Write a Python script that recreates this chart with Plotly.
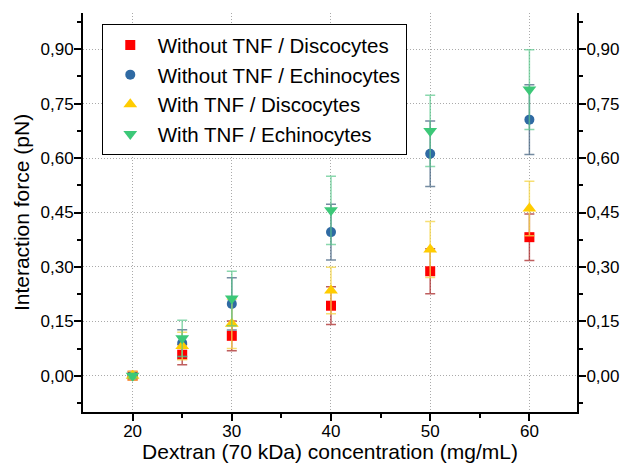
import plotly.graph_objects as go

x = [20, 25, 30, 40, 50, 60]
names = ["Without TNF / Discocytes", "Without TNF / Echinocytes",
         "With TNF / Discocytes", "With TNF / Echinocytes"]
red = [0.0, 0.058, 0.110, 0.193, 0.288, 0.382]
red_err = [0.004, 0.028, 0.041, 0.052, 0.062, 0.064]
blue = [0.0, 0.090, 0.198, 0.396, 0.612, 0.706]
blue_err = [0.004, 0.037, 0.072, 0.077, 0.090, 0.096]
yellow = [0.0, 0.082, 0.143, 0.235, 0.348, 0.461]
yellow_err = [0.012, 0.038, 0.068, 0.064, 0.077, 0.075]
green = [0.0, 0.103, 0.213, 0.456, 0.675, 0.789]
green_err = [0.006, 0.050, 0.075, 0.094, 0.098, 0.110]

ytick_vals = [0.0, 0.15, 0.30, 0.45, 0.60, 0.75, 0.90]
ytick_minor = [-0.075, 0.075, 0.225, 0.375, 0.525, 0.675, 0.825, 0.975]
xtick_vals = [20, 30, 40, 50, 60]
xtick_minor = [25, 35, 45, 55]
y_range = [-0.1, 1.0]
x_range = [15, 64.8]

series = [
    (names[0], red, red_err, "square", "#FF0000", "rgba(170,40,40,0.75)", 10),
    (names[1], blue, blue_err, "circle", "#2F6AA3", "rgba(70,100,130,0.75)", 10),
    (names[2], yellow, yellow_err, "triangle-up", "#FFCC00", "rgba(245,215,80,0.8)", 12),
    (names[3], green, green_err, "triangle-down", "#3CC878", "rgba(90,200,140,0.7)", 12),
]

fig = go.Figure()
for name, vals, errs, sym, col, ecol, sz in series:
    fig.add_trace(go.Scatter(
        x=x, y=vals, name=name, mode="markers",
        marker=dict(symbol=sym, color=col, size=sz, line=dict(width=0)),
        error_y=dict(type="data", array=errs, visible=True, color=ecol,
                     thickness=1.5, width=5),
    ))

# invisible trace so the right-hand axis is drawn with labels
fig.add_trace(go.Scatter(x=x, y=red, yaxis="y2", mode="markers",
                         marker=dict(opacity=0), showlegend=False, hoverinfo="skip"))

fam = "Liberation Sans, Arial, sans-serif"
axis_font = dict(family=fam, size=17, color="black")
title_font = dict(family=fam, size=21, color="black")
grid = dict(showgrid=True, gridcolor="#AAAAAA", griddash="1px,2px", gridwidth=1)
tick_common = dict(ticks="outside", ticklen=7, tickwidth=1.5, tickcolor="black",
                   showline=True, linecolor="black", linewidth=2, zeroline=False,
                   tickfont=axis_font, automargin=False)

fig.update_layout(
    width=621, height=463,
    margin=dict(l=83, r=44, t=13, b=51),
    paper_bgcolor="white", plot_bgcolor="white",
    separators=",.",
    showlegend=True,
    legend=dict(x=0.038, y=0.972, xanchor="left", yanchor="top",
                bordercolor="black", borderwidth=1, bgcolor="white",
                font=dict(family=fam, size=20.5, color="black"),
                itemwidth=45, tracegroupgap=0),
    xaxis=dict(range=x_range, tickvals=xtick_vals, ticklabelstandoff=-4, **tick_common, **grid,
               title=dict(text="Dextran (70 kDa) concentration (mg/mL)", font=title_font, standoff=7),
               minor=dict(ticks="outside", ticklen=4, tickwidth=1.5, tickcolor="black",
                          tickvals=xtick_minor, showgrid=False)),
    yaxis=dict(range=y_range, tickvals=ytick_vals, tickformat=".2f", ticklabelstandoff=-3,
               **tick_common, **grid,
               title=dict(text="Interaction force (pN)", font=title_font, standoff=5),
               minor=dict(ticks="outside", ticklen=4, tickwidth=1.5, tickcolor="black",
                          tickvals=ytick_minor, showgrid=False)),
    yaxis2=dict(range=y_range, overlaying="y", side="right", tickvals=ytick_vals,
                tickformat=".2f", showgrid=False, ticklabelstandoff=-3, **tick_common,
                minor=dict(ticks="outside", ticklen=4, tickwidth=1.5, tickcolor="black",
                           tickvals=ytick_minor)),
)

fig.write_html("out.html", config={"displayModeBar": False},
               post_script="document.body.style.margin='0';document.body.style.overflow='hidden';")
